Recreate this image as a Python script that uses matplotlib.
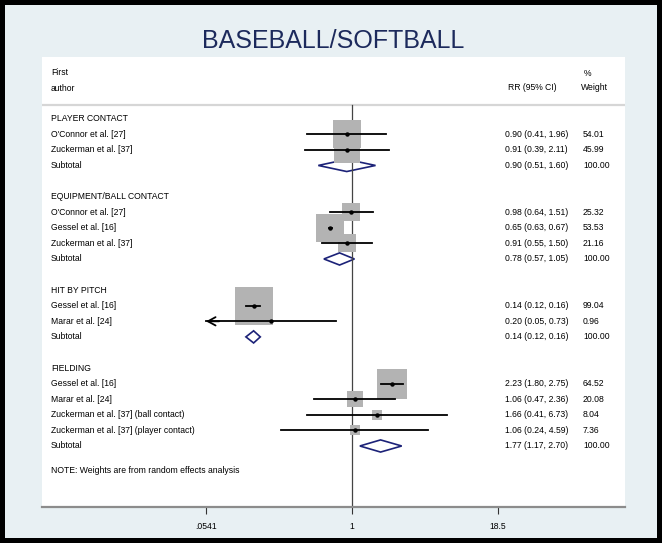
import numpy as np
import matplotlib
matplotlib.use("Agg")
import matplotlib.pyplot as plt
from matplotlib.patches import Polygon
from matplotlib.transforms import blended_transform_factory

plt.rcParams['font.family'] = ['Liberation Sans', 'DejaVu Sans']

# Datos del forest plot
grupos = ['PLAYER CONTACT', 'EQUIPMENT/BALL CONTACT', 'HIT BY PITCH', 'FIELDING']
estudios = [
    ["O'Connor et al. [27]", 'Zuckerman et al. [37]'],
    ["O'Connor et al. [27]", 'Gessel et al. [16]', 'Zuckerman et al. [37]'],
    ['Gessel et al. [16]', 'Marar et al. [24]'],
    ['Gessel et al. [16]', 'Marar et al. [24]',
     'Zuckerman et al. [37] (ball contact)', 'Zuckerman et al. [37] (player contact)'],
]
rr = [[0.90, 0.91], [0.98, 0.65, 0.91], [0.14, 0.20], [2.23, 1.06, 1.66, 1.06]]
ci_lo = [[0.41, 0.39], [0.64, 0.63, 0.55], [0.12, 0.05], [1.80, 0.47, 0.41, 0.24]]
ci_hi = [[1.96, 2.11], [1.51, 0.67, 1.50], [0.16, 0.73], [2.75, 2.36, 6.73, 4.59]]
pesos = [[54.01, 45.99], [25.32, 53.53, 21.16], [99.04, 0.96], [64.52, 20.08, 8.04, 7.36]]
sub_rr = [0.90, 0.78, 0.14, 1.77]
sub_lo = [0.51, 0.57, 0.12, 1.17]
sub_hi = [1.60, 1.05, 0.16, 2.70]

ticks = [0.0541, 1, 18.5]
tick_labels = ['.0541', '1', '18.5']

W, H = 662, 543
fig = plt.figure(figsize=(W / 100, H / 100), dpi=100, facecolor='#e8f0f3',
                 edgecolor='black', linewidth=7)

# panel blanco (en pixeles)
px_l, px_r, px_t, px_b = 42, 625, 57, 507
ax = fig.add_axes([px_l / W, 1 - px_b / H, (px_r - px_l) / W, (px_b - px_t) / H])
ax.set_facecolor('white')

# escala: 50 px por unidad de log, x=1 en px 352; filas cada 15.585 px, fila 0 en px 118.7
k = 50.04
ax.set_xscale('log')
ax.set_xlim(np.exp((px_l - 352) / k), np.exp((px_r - 352) / k))
row_h, row0 = 15.585, 118.7
to_row = lambda p: (p - row0) / row_h
ax.set_ylim(to_row(px_b), to_row(px_t))

tr = blended_transform_factory(ax.transAxes, ax.transData)
fs = 6.2
x_lab, x_rr, x_w = 0.0155, 0.794, 0.928

# encabezado
ax.text(x_lab, to_row(73), 'First', transform=tr, fontsize=fs, va='center')
ax.text(x_lab, to_row(89), 'author', transform=tr, fontsize=fs, va='center')
ax.text(0.799, to_row(88), 'RR (95% CI)', transform=tr, fontsize=fs, va='center')
ax.text(x_w + 0.002, to_row(74), '%', transform=tr, fontsize=fs, va='center')
ax.text(x_w - 0.003, to_row(88), 'Weight', transform=tr, fontsize=fs, va='center')
y_hdr = to_row(105.5)
ax.axhline(y_hdr, color='#d6d6d6', lw=1.6, zorder=1)

# linea de no efecto
ax.plot([1, 1], [y_hdr, to_row(px_b)], color='#444444', lw=0.9, zorder=1)

xmin_t, xmax_t = ticks[0], ticks[-1]
fila = 0
for g in range(len(grupos)):
    ax.text(x_lab, fila, grupos[g], transform=tr, fontsize=fs, va='center')
    fila += 1
    for i in range(len(estudios[g])):
        e, lo, hi, w = rr[g][i], ci_lo[g][i], ci_hi[g][i], pesos[g][i]
        ax.text(x_lab, fila, estudios[g][i], transform=tr, fontsize=fs, va='center')
        ax.text(x_rr, fila, f'{e:.2f} ({lo:.2f}, {hi:.2f})', transform=tr, fontsize=fs, va='center')
        ax.text(x_w, fila, f'{w:.2f}', transform=tr, fontsize=fs, va='center')
        lado = 3.72 * np.sqrt(w) * 0.72
        ax.plot(e, fila, marker='s', markersize=lado, color='#b3b3b3', mew=0, zorder=2)
        if lo < xmin_t:
            # IC recortado: flecha abierta en el limite del eje
            ax.plot([xmin_t, hi], [fila, fila], color='black', lw=1.3, zorder=3)
            ax.annotate('', xy=(xmin_t, fila), xytext=(xmin_t * 1.3, fila),
                        arrowprops=dict(arrowstyle='->,head_length=0.55,head_width=0.3',
                                        color='black', lw=1.3,
                                        shrinkA=0, shrinkB=0, mutation_scale=10), zorder=3)
        else:
            ax.plot([lo, min(hi, xmax_t)], [fila, fila], color='black', lw=1.3, zorder=3)
        ax.plot(e, fila, marker='o', markersize=3.2, color='black', mew=0, zorder=4)
        fila += 1
    ax.text(x_lab, fila, 'Subtotal', transform=tr, fontsize=fs, va='center')
    ax.text(x_rr, fila, f'{sub_rr[g]:.2f} ({sub_lo[g]:.2f}, {sub_hi[g]:.2f})',
            transform=tr, fontsize=fs, va='center')
    ax.text(x_w, fila, '100.00', transform=tr, fontsize=fs, va='center')
    h = 0.39
    diam = Polygon([(sub_lo[g], fila), (sub_rr[g], fila - h), (sub_hi[g], fila),
                    (sub_rr[g], fila + h)], closed=True, facecolor='white',
                   edgecolor='#1c2278', lw=1.2, zorder=0.5)
    ax.add_patch(diam)
    fila += 2

ax.text(x_lab, fila - 0.4, 'NOTE: Weights are from random effects analysis',
        transform=tr, fontsize=fs, va='center')

# eje x
for s in ['top', 'left', 'right']:
    ax.spines[s].set_visible(False)
ax.spines['bottom'].set_color('#8c8c8c')
ax.spines['bottom'].set_linewidth(1.6)
ax.set_yticks([])
ax.set_xticks(ticks)
ax.set_xticklabels(tick_labels)
ax.minorticks_off()
ax.tick_params(axis='x', direction='out', length=5, width=0.8, color='#333333',
               labelsize=fs, pad=6)

fig.text(333 / W, 1 - 40.5 / H, 'BASEBALL/SOFTBALL', fontsize=18, color='#1c2a5c',
         ha='center', va='center')

fig.savefig('out.png', dpi=100, facecolor=fig.get_facecolor(), edgecolor='black')
